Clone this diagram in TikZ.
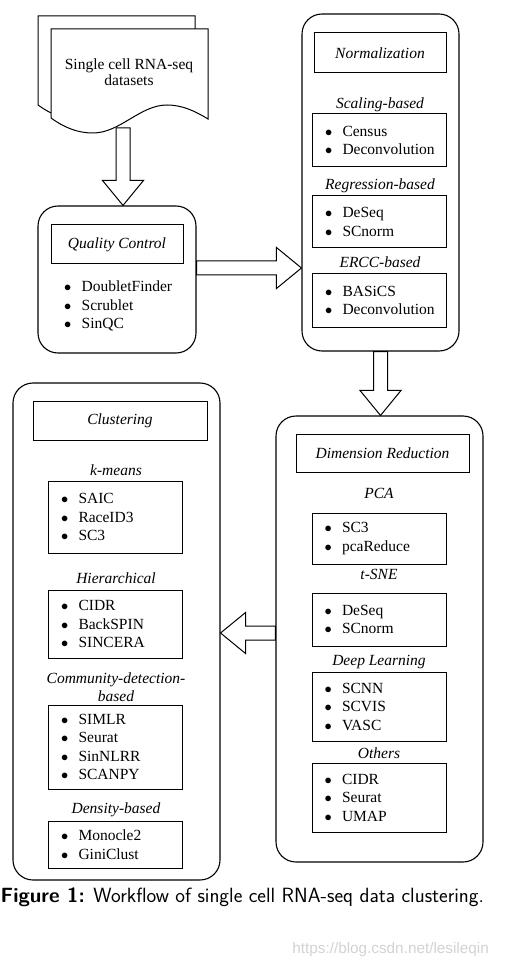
\documentclass[tikz,border=0pt]{standalone}
\usepackage{fontspec}
\setmainfont{Liberation Serif}
\newfontfamily\wmfont{Liberation Sans}
\usetikzlibrary{calc,positioning}

% one bullet line of a method list
\newcommand\itm[1]{\makebox[17.5pt][l]{$\bullet$}#1}
% hollow block arrow from #1 to #2
\newcommand\blockarrow[2]{%
  \draw[fatarrow] let \p1=(#1), \p2=(#2), \n1={atan2(\y2-\y1,\x2-\x1)} in
    ($(\p1)+({\n1+90}:7pt)$) -- ($(\p2)+({\n1+180}:25pt)+({\n1+90}:7pt)$)
    -- ($(\p2)+({\n1+180}:25pt)+({\n1+90}:20.5pt)$) -- (\p2)
    -- ($(\p2)+({\n1+180}:25pt)+({\n1-90}:20.5pt)$)
    -- ($(\p2)+({\n1+180}:25pt)+({\n1-90}:7pt)$)
    -- ($(\p1)+({\n1-90}:7pt)$) -- cycle;}

\begin{document}
\fontsize{15.5}{18.5}\selectfont
\begin{tikzpicture}[
  x=1pt, y=-1pt,
  panel/.style={draw, rounded corners=20pt, line width=1.1pt, inner sep=0pt},
  titlebox/.style={draw, line width=1pt, font=\itshape, inner sep=0pt},
  listbox/.style={draw, line width=1pt, align=left, text width=109pt, inner xsep=12.5pt, inner ysep=0pt},
  grp/.style={font=\itshape, align=center, inner sep=0pt},
  fatarrow/.style={draw, line width=1pt, fill=white, line join=miter},
  docpage/.pic={
    \draw[fatarrow] (51,29) -- (208,29) -- (208,119)
      .. controls (195,111) and (182,105) .. (167,105)
      .. controls (140,105) and (120,133) .. (93,133)
      .. controls (78,133) and (65,128) .. (51,118) -- cycle;}
]
\useasboundingbox (0,0) rectangle (507,965);

% Input data (stacked pages)
\pic at (-13,-13) {docpage};
\pic at (0,0) {docpage};
\node[align=center, inner sep=0pt] (data) at (129,72) {Single cell RNA-seq\\[-2.5pt]datasets};
\coordinate (docbot) at (123,128);

% Quality control
\node[panel, minimum width=158pt, minimum height=147pt] (qc) at (117,279.5) {};
\node[titlebox, minimum width=132pt, minimum height=39pt] (qctitle) at (117,244.5) {Quality Control};
\node[align=left, anchor=west, inner sep=0pt] (qcitems) at (64,306)
  {\itm{DoubletFinder}\\\itm{Scrublet}\\\itm{SinQC}};

% Normalization
\node[panel, minimum width=157pt, minimum height=337pt] (norm) at (380.5,182.5) {};
\node[titlebox, minimum width=132pt, minimum height=40pt] (normtitle) at (380,53) {Normalization};
\node[grp, anchor=base] (scallbl) at (380,109) {Scaling-based};
\node[listbox, minimum height=53pt] (scal) at (379.5,140.5) {\itm{Census}\\\itm{Deconvolution}};
\node[grp, anchor=base] (regrlbl) at (380,190) {Regression-based};
\node[listbox, minimum height=52pt] (regr) at (379.5,222) {\itm{DeSeq}\\\itm{SCnorm}};
\node[grp, anchor=base] (ercclbl) at (380,268) {ERCC-based};
\node[listbox, minimum height=53pt] (ercc) at (379.5,300.5) {\itm{BASiCS}\\\itm{Deconvolution}};

% Dimension reduction
\node[panel, minimum width=207pt, minimum height=446pt] (dimred) at (379.5,639) {};
\node[titlebox, minimum width=173pt, minimum height=38pt] (dimredtitle) at (382.5,453) {Dimension Reduction};
\node[grp, anchor=base] (pcalbl) at (379,498) {PCA};
\node[listbox, minimum height=51pt] (pca) at (379,538.5) {\itm{SC3}\\\itm{pcaReduce}};
\node[grp, anchor=base] (tsnelbl) at (379,579) {t-SNE};
\node[listbox, minimum height=53pt] (tsne) at (379,619.5) {\itm{DeSeq}\\\itm{SCnorm}};
\node[grp, anchor=base] (deeplbl) at (379,665) {Deep Learning};
\node[listbox, minimum height=69pt] (deep) at (379,706.5) {\itm{SCNN}\\\itm{SCVIS}\\\itm{VASC}};
\node[grp, anchor=base] (otherlbl) at (379,758) {Others};
\node[listbox, minimum height=69pt] (other) at (379,797.5) {\itm{CIDR}\\\itm{Seurat}\\\itm{UMAP}};

% Clustering
\node[panel, minimum width=207pt, minimum height=497pt] (clust) at (116.5,631.5) {};
\node[titlebox, minimum width=174pt, minimum height=39pt] (clusttitle) at (120,420.5) {Clustering};
\node[grp, anchor=base] (kmlbl) at (116,475) {k-means};
\node[listbox, minimum height=72pt] (km) at (115.5,517) {\itm{SAIC}\\\itm{RaceID3}\\\itm{SC3}};
\node[grp, anchor=base] (hierlbl) at (116,583) {Hierarchical};
\node[listbox, minimum height=68pt] (hier) at (115.5,624) {\itm{CIDR}\\\itm{BackSPIN}\\\itm{SINCERA}};
\node[grp] (commlbl) at (116,687) {Community-detection-\\based};
\node[listbox, minimum height=84pt] (comm) at (115.5,747) {\itm{SIMLR}\\\itm{Seurat}\\\itm{SinNLRR}\\\itm{SCANPY}};
\node[grp, anchor=base] (denslbl) at (116,813) {Density-based};
\node[listbox, minimum height=47pt] (dens) at (115.5,844.5) {\itm{Monocle2}\\\itm{GiniClust}};

% Flow between the stages
\coordinate (qcout) at ($(qc.east)+(0,-11.5)$);
\coordinate (drout) at ($(dimred.west)+(0,-6)$);
\blockarrow{docbot}{docbot |- qc.north}
\blockarrow{qcout}{qcout -| norm.west}
\blockarrow{norm.south}{norm.south |- dimred.north}
\blockarrow{drout}{drout -| clust.east}

% Caption and watermark
\node[anchor=base west, inner sep=0pt, font=\sffamily\fontsize{20.6}{24}\selectfont] (caption) at (0.5,902)
  {\textbf{Figure 1:} Workflow of single cell RNA-seq data clustering.};
\node[anchor=base east, inner sep=0pt, text=gray!35, font=\wmfont\fontsize{15.3}{18}\selectfont] (watermark) at (489,953)
  {https://blog.csdn.net/lesileqin};
\end{tikzpicture}
\end{document}
